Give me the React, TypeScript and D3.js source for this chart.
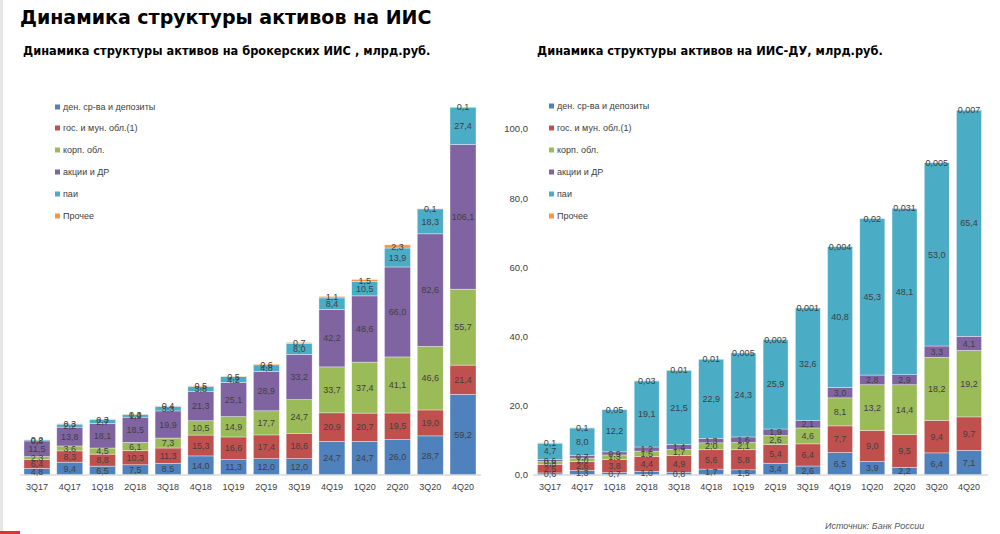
import React from 'react';
import * as d3 from 'd3';

const categories = ['3Q17','4Q17','1Q18','2Q18','3Q18','4Q18','1Q19','2Q19','3Q19','4Q19','1Q20','2Q20','3Q20','4Q20'];
const seriesNames = ['ден. ср-ва и депозиты','гос. и мун. обл.(1)','корп. обл.','акции и ДР','паи','Прочее'];
const seriesKeys = ['cash','gov','corp','shares','funds','other'];
const seriesColors = ['#4F81BD','#C0504D','#9BBB59','#8064A2','#4BACC6','#F79646'];

// Брокерские ИИС, млрд руб.
const brokerCash   = [4.8, 9.4, 6.5, 7.5, 8.5, 14.0, 11.3, 12.0, 12.0, 24.7, 24.7, 26.0, 28.7, 59.2];
const brokerGov    = [6.4, 8.3, 8.8, 10.3, 11.3, 15.3, 16.6, 17.4, 18.6, 20.9, 20.7, 19.5, 19.0, 21.4];
const brokerCorp   = [2.3, 3.6, 4.5, 6.1, 7.3, 10.5, 14.9, 17.7, 24.7, 33.7, 37.4, 41.1, 46.6, 55.7];
const brokerShares = [11.5, 13.8, 18.1, 18.5, 19.9, 21.3, 25.1, 28.9, 33.2, 42.2, 48.6, 66.0, 82.6, 106.1];
const brokerFunds  = [0.8, 2.2, 2.7, 1.9, 3.3, 3.8, 4.2, 4.8, 8.0, 8.4, 10.5, 13.9, 18.3, 27.4];
const brokerOther  = [0.2, 0.3, 0.3, 0.3, 0.4, 0.5, 0.5, 0.6, 0.7, 1.1, 1.5, 2.3, 0.1, 0.1];

// ИИС-ДУ, млрд руб.
const duCash   = [0.6, 1.3, 0.7, 1.0, 0.8, 1.7, 1.5, 3.4, 2.6, 6.5, 3.9, 2.2, 6.4, 7.1];
const duGov    = [2.5, 2.6, 3.8, 4.4, 4.9, 5.6, 5.8, 5.4, 6.4, 7.7, 9.0, 9.5, 9.4, 9.7];
const duCorp   = [0.8, 1.0, 1.3, 1.5, 1.7, 2.0, 2.1, 2.6, 4.6, 8.1, 13.2, 14.4, 18.2, 19.2];
const duShares = [0.6, 0.7, 0.9, 1.2, 1.4, 1.3, 1.6, 1.9, 2.1, 3.0, 2.8, 2.9, 3.3, 4.1];
const duFunds  = [4.7, 8.0, 12.2, 19.1, 21.5, 22.9, 24.3, 25.9, 32.6, 40.8, 45.3, 48.1, 53.0, 65.4];
const duOther  = [0.1, 0.1, 0.05, 0.03, 0.01, 0.01, 0.005, 0.002, 0.001, 0.004, 0.02, 0.031, 0.005, 0.007];

const duTicks = [0, 20, 40, 60, 80, 100];

type Row = { [k: string]: any };

function buildRows(cols: number[][]): Row[] {
  return categories.map((c, i) => {
    const r: Row = { cat: c };
    seriesKeys.forEach((k, j) => { r[k] = cols[j][i]; });
    return r;
  });
}

const brokerRows = buildRows([brokerCash, brokerGov, brokerCorp, brokerShares, brokerFunds, brokerOther]);
const duRows = buildRows([duCash, duGov, duCorp, duShares, duFunds, duOther]);

const FONT = '"Liberation Sans", Arial, sans-serif';
const TITLE_FONT = '"DejaVu Sans", Verdana, sans-serif';
const TXT = '#404040';

const fmt1 = (v: number) => v.toFixed(1).replace('.', ',');
const fmtRaw = (v: number) => String(v).replace('.', ',');

function StackChart(props: {
  rows: Row[];
  xRange: [number, number];
  pad: number;
  yDomain: [number, number];
  yRange: [number, number];
  otherFmt: (v: number) => string;
  axisTicks?: number[];
  axisX?: number;
  legendX: number;
  legendY: number[];
  baseX: [number, number];
}) {
  const { rows, xRange, pad, yDomain, yRange, otherFmt, axisTicks, axisX, legendX, legendY, baseX } = props;
  const x = d3.scaleBand<string>().domain(categories).range(xRange).paddingInner(pad).paddingOuter(pad / 2);
  const y = d3.scaleLinear().domain(yDomain).range(yRange);
  const stacked = d3.stack<Row>().keys(seriesKeys)(rows);
  return (
    <g>
      {axisTicks && axisTicks.map(t => (
        <text key={'t' + t} x={axisX} y={y(t)} dy="0.35em" textAnchor="end" fontFamily={FONT} fontSize={9.5} fill={TXT}>
          {fmt1(t)}
        </text>
      ))}
      {stacked.map((s, si) => (
        <g key={s.key}>
          {s.map((d, i) => (
            <rect key={i} x={x(categories[i])} y={y(d[1])} width={x.bandwidth()} height={Math.max(0, y(d[0]) - y(d[1]))}
              fill={seriesColors[si]} stroke="#ffffff" strokeOpacity={0.6} strokeWidth={0.6} />
          ))}
        </g>
      ))}
      <line x1={baseX[0]} x2={baseX[1]} y1={y(0)} y2={y(0)} stroke="#d9d9d9" strokeWidth={1.5} />
      {stacked.map((s, si) => (
        <g key={'l' + s.key}>
          {s.map((d, i) => {
            const v = (d.data as Row)[s.key] as number;
            const label = si === 5 ? otherFmt(v) : fmt1(v);
            return (
              <text key={i} x={(x(categories[i]) as number) + x.bandwidth() / 2} y={(y(d[0]) + y(d[1])) / 2} dy="0.35em"
                textAnchor="middle" fontFamily={FONT} fontSize={9} fill={TXT}>
                {label}
              </text>
            );
          })}
        </g>
      ))}
      {categories.map(c => (
        <text key={'c' + c} x={(x(c) as number) + x.bandwidth() / 2} y={y(0) + 12} dy="0.35em" textAnchor="middle"
          fontFamily={FONT} fontSize={9} fill={TXT}>{c}</text>
      ))}
      {seriesNames.map((n, i) => (
        <g key={'lg' + i}>
          <rect x={legendX} y={legendY[i] - 2.5} width={5} height={5} fill={seriesColors[i]} />
          <text x={legendX + 8} y={legendY[i]} dy="0.35em" fontFamily={FONT} fontSize={9} fill={TXT}>{n}</text>
        </g>
      ))}
    </g>
  );
}

export default function App() {
  return (
    <svg width={1000} height={534} style={{ position: 'absolute', left: 0, top: 0, background: '#ffffff' }}>
      <rect x={0} y={0} width={1000} height={534} fill="#ffffff" />
      <rect x={0} y={0} width={3} height={534} fill="#e6e6e6" />
      <rect x={0} y={531} width={20} height={3} fill="#d9343a" />
      <text x={20} y={24} fontFamily={TITLE_FONT} fontWeight="bold" fontSize={19} fill="#000">
        Динамика структуры активов на ИИС
      </text>
      <text x={23} y={55} fontFamily={TITLE_FONT} fontWeight="bold" fontSize={11.4} fill="#000">
        Динамика структуры активов на брокерских ИИС , млрд.руб.
      </text>
      <text x={537} y={55} fontFamily={TITLE_FONT} fontWeight="bold" fontSize={11.4} fill="#000">
        Динамика структуры активов на ИИС-ДУ, млрд.руб.
      </text>
      <StackChart rows={brokerRows} xRange={[20.6, 479.4]} pad={0.207} yDomain={[0, 300]} yRange={[475, 66]}
        otherFmt={fmt1} legendX={55} legendY={[107, 128, 150, 172, 194, 216]} baseX={[20, 481]} />
      <StackChart rows={duRows} xRange={[533.9, 985.1]} pad={0.224} yDomain={[0, 120]} yRange={[475, 60]}
        otherFmt={fmtRaw} axisTicks={duTicks} axisX={528} legendX={549} legendY={[106, 128, 150, 172, 194, 216]} baseX={[533, 988]} />
      <text x={825} y={526} dy="0.35em" fontFamily={FONT} fontStyle="italic" fontSize={9} fill="#595959">
        Источник: Банк России
      </text>
    </svg>
  );
}
